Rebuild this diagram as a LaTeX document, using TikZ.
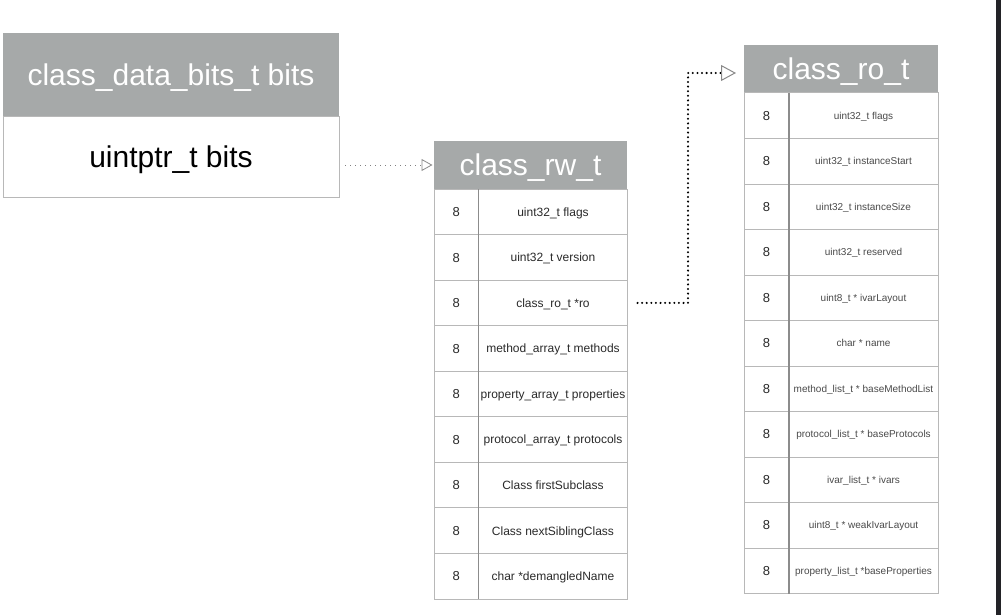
\documentclass[tikz,border=0pt]{standalone}
\usepackage{fontspec}
\setmainfont{Liberation Sans}
\usetikzlibrary{arrows.meta,calc}
\definecolor{hdrgray}{HTML}{A6A9A9}
\definecolor{gridgray}{HTML}{B8B8B8}
\definecolor{divgray}{HTML}{8C8C8C}
\definecolor{darkbar}{HTML}{232327}
\definecolor{rwtxt}{HTML}{2A2A2A}
\definecolor{rotxt}{HTML}{4A4A4A}
\definecolor{tipgray}{HTML}{8A8A8A}
\tikzset{
  hdrbox/.style={anchor=north west, fill=hdrgray, text=white, inner sep=0pt, outer sep=0pt,
    font=\fontsize{30}{34}\selectfont, text height=21.6pt, text depth=0pt},
  bodybox/.style={anchor=north west, draw=gridgray, line width=1pt, fill=white, inner sep=0pt, outer sep=0pt,
    font=\fontsize{30}{34}\selectfont, text=black, text height=21.6pt, text depth=0pt},
  numcell/.style={anchor=north west, draw=gridgray, line width=1pt, inner sep=0pt, outer sep=0pt,
    minimum width=44.5pt, text=rwtxt, font=\fontsize{13}{15}\selectfont, text height=9.4pt, text depth=0pt},
  rwcell/.style={anchor=north west, draw=gridgray, line width=1pt, inner sep=0pt, outer sep=0pt,
    minimum width=149pt, minimum height=45.56pt, text=rwtxt, font=\fontsize{12}{14}\selectfont,
    text height=8.6pt, text depth=0pt},
  rocell/.style={anchor=north west, draw=gridgray, line width=1pt, inner sep=0pt, outer sep=0pt,
    minimum width=149pt, minimum height=45.5pt, text=rotxt, font=\fontsize{10}{12}\selectfont,
    text height=7.2pt, text depth=0pt},
  lightdots/.style={draw=gray, line width=0.9pt, dash pattern=on 1pt off 4pt,
    -{Triangle[open, length=11pt, width=12pt, line width=0.8pt, color=tipgray]}},
  heavydots/.style={draw=black, line width=2.3pt, line cap=round, dash pattern=on 0pt off 4.6pt,
    -{Triangle[open, length=15pt, width=16pt, line width=1pt, color=tipgray]}}
}
\begin{document}
\begin{tikzpicture}[x=1pt,y=-1pt]
\useasboundingbox[fill=white] (0,0) rectangle (1001,615);
\fill[darkbar] (996,0) rectangle (1001,615);

% class_data_bits_t box
\node[hdrbox, minimum width=336pt, minimum height=84pt] (bitsH) at (3,33) {class\_data\_bits\_t bits};
\node[bodybox, minimum width=336pt, minimum height=80pt] (bitsB) at (3,117) {uintptr\_t bits};

% class_rw_t table
\node[hdrbox, minimum width=193pt, minimum height=48pt] (rwH) at (434,141) {class\_rw\_t};
\foreach \i/\t in {1/{uint32\_t flags},2/{uint32\_t version},3/{class\_ro\_t *ro},
  4/{method\_array\_t methods},5/{property\_array\_t properties},6/{protocol\_array\_t protocols},
  7/{Class firstSubclass},8/{Class nextSiblingClass},9/{char *demangledName}}{
  \node[numcell, minimum height=45.56pt] (rwn\i) at (434,{189+45.56*(\i-1)}) {8};
  \node[rwcell] (rwt\i) at (478.5,{189+45.56*(\i-1)}) {\t};
}
\draw[divgray, line width=1.2pt] (rwn1.north east) -- (rwn9.south east);

% class_ro_t table
\node[hdrbox, minimum width=194pt, minimum height=48pt] (roH) at (744,45) {class\_ro\_t};
\foreach \i/\t in {1/{uint32\_t flags},2/{uint32\_t instanceStart},3/{uint32\_t instanceSize},
  4/{uint32\_t reserved},5/{uint8\_t * ivarLayout},6/{char * name},
  7/{method\_list\_t * baseMethodList},8/{protocol\_list\_t * baseProtocols},9/{ivar\_list\_t * ivars},
  10/{uint8\_t * weakIvarLayout},11/{property\_list\_t *baseProperties}}{
  \node[numcell, minimum width=45pt, minimum height=45.5pt] (ron\i) at (744,{93+45.5*(\i-1)}) {8};
  \node[rocell] (rot\i) at (789,{93+45.5*(\i-1)}) {\t};
}
\draw[divgray, line width=1.2pt] (ron1.north east) -- (ron11.south east);

% connectors
\draw[lightdots, shorten <=6pt, shorten >=1.5pt] (bitsB.east |- rwH.west) -- (rwH.west);
\coordinate (bend) at (688,73);
\draw[heavydots, shorten <=10pt, shorten >=8pt] (rwt3.east) -| (bend) -- ([yshift=-4pt]roH.west);
\end{tikzpicture}
\end{document}
